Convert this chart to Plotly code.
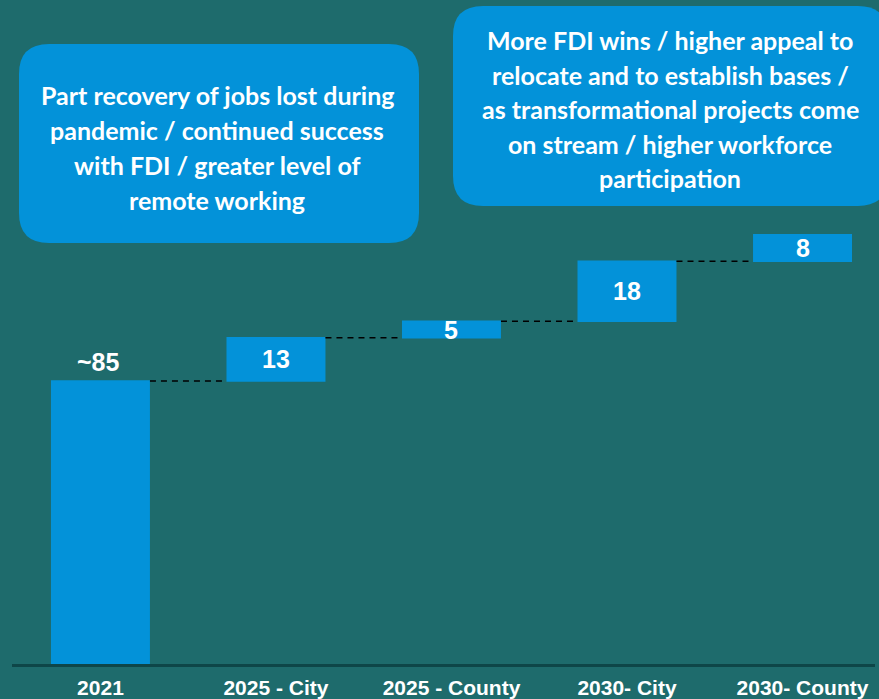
import numpy as np
import plotly.graph_objects as go

# Jobs bridge: 2021 baseline plus incremental gains (thousands)
categories = ["2021", "2025 - City", "2025 - County", "2030- City", "2030- County"]
values = [85, 13, 5, 18, 8]
measures = ["absolute", "relative", "relative", "relative", "relative"]
value_labels = ["~85", "13", "5", "18", "8"]

note_left = [
    "Part recovery of jobs lost during",
    "pandemic / continued success",
    "with FDI / greater level of",
    "remote working",
]
note_right = [
    "More FDI wins / higher appeal to",
    "relocate and to establish bases /",
    "as transformational projects come",
    "on stream / higher workforce",
    "participation",
]

BG = "#1e6b6c"
BLUE = "#0392d9"
W, H = 879, 699
ML, MR, MT, MB = 12, 4, 0, 35
PW, PH = W - ML - MR, H - MT - MB

fig = go.Figure(
    go.Waterfall(
        x=categories,
        y=values,
        measure=measures,
        width=0.564,
        increasing=dict(marker=dict(color=BLUE)),
        totals=dict(marker=dict(color=BLUE)),
        decreasing=dict(marker=dict(color=BLUE)),
        connector=dict(mode="between", line=dict(color="#000000", width=1.5, dash="6px,5px")),
        hoverinfo="skip",
    )
)

# value labels: first above its bar, the rest centred inside
# (x given as category index so "2021" is not read as a number)
tops = np.cumsum(values)
label_font = dict(family="Liberation Sans, Arial", size=25, color="white", weight="bold")
annotations = []
for i, lab in enumerate(value_labels):
    if i == 0:
        annotations.append(dict(x=i, y=float(values[0]), text=lab, showarrow=False,
                                yanchor="bottom", yshift=3, xshift=-2, font=label_font))
    else:
        annotations.append(dict(x=i, y=float(tops[i] - values[i] / 2), text=lab,
                                showarrow=False, yanchor="middle", font=label_font))


def px_x(px):
    return (px - ML) / PW


def px_y(py):
    return (H - MB - py) / PH


def rounded_box(x0, y0, x1, y1, r):
    # rounded rectangle path in paper coordinates from pixel corners
    rx, ry = r / PW, r / PH
    a, b = px_x(x0), px_x(x1)
    top, bot = px_y(y0), px_y(y1)
    return (
        f"M {a + rx},{top} L {b - rx},{top} Q {b},{top} {b},{top - ry} "
        f"L {b},{bot + ry} Q {b},{bot} {b - rx},{bot} "
        f"L {a + rx},{bot} Q {a},{bot} {a},{bot + ry} "
        f"L {a},{top - ry} Q {a},{top} {a + rx},{top} Z"
    )


shapes = [
    dict(type="path", xref="paper", yref="paper", path=rounded_box(19, 44, 419, 243, 30),
         fillcolor=BLUE, line=dict(width=0), layer="above"),
    dict(type="path", xref="paper", yref="paper", path=rounded_box(453, 6, 888, 206, 30),
         fillcolor=BLUE, line=dict(width=0), layer="above"),
]

note_font = dict(family="Lato", size=25, color="white", weight="bold")
for k, line in enumerate(note_left):
    annotations.append(dict(xref="paper", yref="paper", x=px_x(217), y=px_y(95 + 35 * k),
                            text=line, showarrow=False, xanchor="center", yanchor="middle",
                            font=note_font))
for k, line in enumerate(note_right):
    annotations.append(dict(xref="paper", yref="paper", x=px_x(670), y=px_y(40 + 34.6 * k),
                            text=line, showarrow=False, xanchor="center", yanchor="middle",
                            font=note_font))

fig.update_layout(
    width=W, height=H,
    margin=dict(l=ML, r=MR, t=MT, b=MB),
    paper_bgcolor=BG, plot_bgcolor=BG,
    showlegend=False,
    shapes=shapes,
    annotations=annotations,
    xaxis=dict(range=[-0.504, 4.413], showgrid=False, zeroline=False,
               showline=True, linecolor="#0e4648", linewidth=2.5, ticks="",
               ticklabelstandoff=3,
               tickfont=dict(family="Liberation Sans, Arial", size=21, color="white", weight="bold")),
    yaxis=dict(range=[0, 199.5], showgrid=False, zeroline=False, showticklabels=False,
               showline=False),
)

fig.write_html("out.html")
